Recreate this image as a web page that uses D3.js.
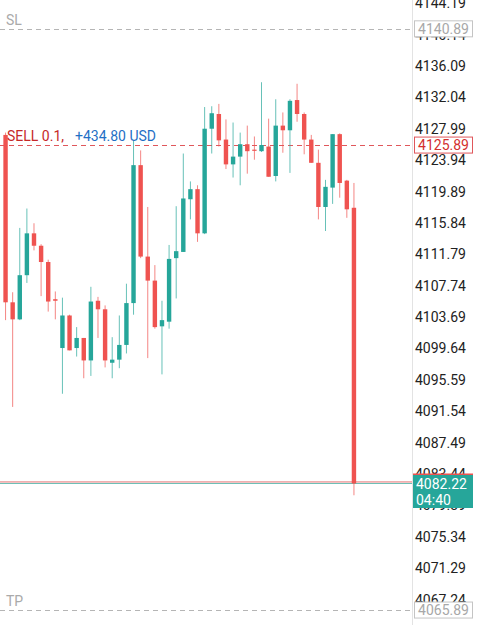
<!DOCTYPE html>
<html>
<head>
<meta charset="utf-8">
<script src="https://cdn.jsdelivr.net/npm/d3@7/dist/d3.min.js"></script>
<style>
  body { margin: 0; background: #fff; }
  svg { display: block; font-family: Roboto, "Noto Sans", sans-serif; }
</style>
</head>
<body>
<svg id="chart" width="486" height="625"></svg>
<script>
// candle data, oldest first
var opens  = [4127.2, 4105.6, 4103.4, 4109.1, 4114.5, 4112.9, 4110.8, 4106.0, 4099.7, 4103.9,
              4099.7, 4101.0, 4098.1, 4105.8, 4104.7, 4097.8, 4098.2, 4100.1, 4105.5, 4123.3,
              4111.5, 4108.4, 4102.5, 4103.1, 4111.3, 4112.1, 4118.9, 4120.2, 4114.5, 4128.0,
              4129.9, 4126.6, 4123.4, 4124.4, 4126.0, 4125.3, 4125.1, 4125.7, 4121.9, 4128.4,
              4127.8, 4131.7, 4129.9, 4126.6, 4123.6, 4117.9, 4120.4, 4127.3, 4121.3, 4117.8];
var highs  = [4127.5, 4106.9, 4115.2, 4117.7, 4115.8, 4113.1, 4111.1, 4107.0, 4106.2, 4104.0,
              4102.4, 4101.0, 4107.6, 4106.3, 4105.2, 4101.1, 4103.9, 4108.0, 4126.5, 4125.2,
              4117.9, 4110.4, 4105.8, 4113.0, 4118.0, 4124.8, 4121.2, 4120.7, 4130.8, 4130.9,
              4131.2, 4129.2, 4128.8, 4127.5, 4128.4, 4127.0, 4134.0, 4129.3, 4131.8, 4130.1,
              4131.8, 4133.8, 4130.1, 4127.2, 4125.3, 4121.4, 4127.3, 4127.4, 4121.4, 4121.0];
var lows   = [4103.3, 4092.1, 4103.3, 4108.1, 4112.3, 4106.4, 4104.4, 4103.4, 4093.8, 4099.4,
              4098.6, 4095.8, 4096.1, 4101.0, 4097.2, 4095.8, 4097.1, 4099.0, 4104.0, 4111.3,
              4098.4, 4102.2, 4096.3, 4102.2, 4106.1, 4112.1, 4116.3, 4113.4, 4114.4, 4124.8,
              4125.7, 4122.8, 4121.7, 4120.7, 4122.2, 4124.0, 4125.0, 4121.8, 4121.2, 4124.9,
              4122.3, 4128.9, 4124.7, 4123.6, 4116.3, 4114.8, 4118.3, 4119.1, 4116.5, 4080.7];
var closes = [4105.6, 4103.4, 4109.1, 4114.5, 4112.9, 4110.8, 4105.7, 4105.8, 4103.9, 4099.4,
              4101.0, 4098.1, 4105.7, 4104.7, 4098.1, 4098.2, 4100.1, 4105.5, 4123.3, 4111.5,
              4108.4, 4102.4, 4103.3, 4111.2, 4112.2, 4119.0, 4120.2, 4114.5, 4128.0, 4130.0,
              4126.5, 4123.4, 4124.4, 4126.0, 4125.1, 4125.2, 4125.9, 4121.8, 4128.4, 4127.8,
              4131.6, 4129.9, 4126.6, 4123.6, 4117.9, 4120.5, 4127.3, 4121.0, 4117.6, 4082.22];

// price axis labels
var tickLabels = [4144.19, 4140.14, 4136.09, 4132.04, 4127.99, 4123.94, 4119.89, 4115.84,
                  4111.79, 4107.74, 4103.69, 4099.64, 4095.59, 4091.54, 4087.49, 4083.44,
                  4079.39, 4075.34, 4071.29, 4067.24];

// order levels
var slPrice = 4140.89,
    tpPrice = 4065.89,
    entryPrice = 4125.89,
    bidPrice = 4082.22,
    askPrice = 4082.42;
var orderText = "SELL 0.1,",
    profitText = "+434.80 USD",
    timerText = "04:40";

var W = 486, H = 625, plotRight = 412;
var upColor = "#26a69a", downColor = "#ef5350";

var svg = d3.select("#chart");

var y = d3.scaleLinear()
  .domain([4063.96, 4144.61])
  .range([H, 0]);

var x = d3.scaleBand()
  .domain(d3.range(opens.length))
  .range([2, 357.5])
  .paddingInner(0.38)
  .paddingOuter(0.19);

var candles = opens.map(function(o, i) {
  return { i: i, o: o, h: highs[i], l: lows[i], c: closes[i] };
});

//price axis separator
svg.append("line")
  .attr("x1", plotRight + 0.5)
  .attr("x2", plotRight + 0.5)
  .attr("y1", 0)
  .attr("y2", H)
  .attr("stroke", "#e3e3e3");

//axis labels
var axis = svg.append("g")
  .attr("transform", "translate(" + plotRight + ",0)")
  .call(d3.axisRight(y)
    .tickValues(tickLabels)
    .tickFormat(d3.format(".2f"))
    .tickSize(0)
    .tickPadding(3));
axis.select(".domain").remove();
axis.selectAll("text")
  .attr("font-size", "14px")
  .attr("font-family", "Roboto, sans-serif")
  .attr("fill", "#222");

//dashed order lines
function dashLine(price, color) {
  svg.append("line")
    .attr("x1", 0)
    .attr("x2", plotRight)
    .attr("y1", Math.round(y(price)) + 0.5)
    .attr("y2", Math.round(y(price)) + 0.5)
    .attr("stroke", color)
    .attr("stroke-width", 1)
    .attr("stroke-dasharray", "5,4");
}
dashLine(slPrice, "#b5b5b5");
dashLine(tpPrice, "#b5b5b5");
dashLine(entryPrice, "#e0575b");

//bid / ask lines
svg.append("line")
  .attr("x1", 0).attr("x2", plotRight)
  .attr("y1", y(askPrice)).attr("y2", y(askPrice))
  .attr("stroke", "#e57373").attr("stroke-width", 1);
svg.append("line")
  .attr("x1", 0).attr("x2", plotRight)
  .attr("y1", y(bidPrice)).attr("y2", y(bidPrice))
  .attr("stroke", "#6cbfb6").attr("stroke-width", 1);

//candles
var g = svg.append("g");
g.selectAll(".wick")
  .data(candles)
  .enter()
  .append("line")
  .attr("class", "wick")
  .attr("x1", function(d) { return x(d.i) + x.bandwidth() / 2; })
  .attr("x2", function(d) { return x(d.i) + x.bandwidth() / 2; })
  .attr("y1", function(d) { return y(d.h); })
  .attr("y2", function(d) { return y(d.l); })
  .attr("stroke", function(d) { return d.c >= d.o ? upColor : downColor; })
  .attr("stroke-opacity", 0.7)
  .attr("stroke-width", 1);

g.selectAll(".body")
  .data(candles)
  .enter()
  .append("rect")
  .attr("class", "body")
  .attr("x", function(d) { return x(d.i); })
  .attr("width", x.bandwidth())
  .attr("y", function(d) { return y(Math.max(d.o, d.c)); })
  .attr("height", function(d) { return Math.max(1.2, Math.abs(y(d.o) - y(d.c))); })
  .attr("fill", function(d) { return d.c >= d.o ? upColor : downColor; });

//level texts on the left
svg.append("text")
  .attr("x", 6)
  .attr("y", y(slPrice) - 4)
  .attr("font-size", "14px")
  .attr("fill", "#aaa")
  .text("SL");
svg.append("text")
  .attr("x", 6)
  .attr("y", y(tpPrice) - 4)
  .attr("font-size", "14px")
  .attr("fill", "#aaa")
  .text("TP");

var orderLabel = svg.append("text")
  .attr("x", 7)
  .attr("y", y(entryPrice) - 4)
  .attr("font-size", "14px");
orderLabel.append("tspan")
  .attr("fill", "#c62828")
  .text(orderText);
orderLabel.append("tspan")
  .attr("dx", 11)
  .attr("fill", "#1f6fc5")
  .text(profitText);

//price boxes on the axis
function priceBox(price, stroke, color) {
  var cy = y(price);
  svg.append("rect")
    .attr("x", 414.5)
    .attr("y", cy - 8)
    .attr("width", 58)
    .attr("height", 16)
    .attr("fill", "#fff")
    .attr("stroke", stroke);
  svg.append("text")
    .attr("x", 443.5)
    .attr("y", cy + 5)
    .attr("text-anchor", "middle")
    .attr("font-size", "14px")
    .attr("fill", color)
    .text(d3.format(".2f")(price));
}
priceBox(slPrice, "#c4c4c4", "#a8a8a8");
priceBox(tpPrice, "#c4c4c4", "#a8a8a8");
priceBox(entryPrice, "#e0575b", "#d32f2f");

//current price box (ask edge peeking out above)
var by = y(bidPrice);
svg.append("rect")
  .attr("x", 413)
  .attr("y", by - 10)
  .attr("width", 60)
  .attr("height", 20)
  .attr("fill", downColor);
svg.append("rect")
  .attr("x", 413)
  .attr("y", by - 8.5)
  .attr("width", 60)
  .attr("height", 33)
  .attr("fill", upColor);
svg.append("text")
  .attr("x", 416)
  .attr("y", by + 5.5)
  .attr("font-size", "14px")
  .attr("fill", "#fff")
  .text(d3.format(".2f")(bidPrice));
svg.append("text")
  .attr("x", 416)
  .attr("y", by + 21.5)
  .attr("font-size", "14px")
  .attr("fill", "#fff")
  .text(timerText);
</script>
</body>
</html>
